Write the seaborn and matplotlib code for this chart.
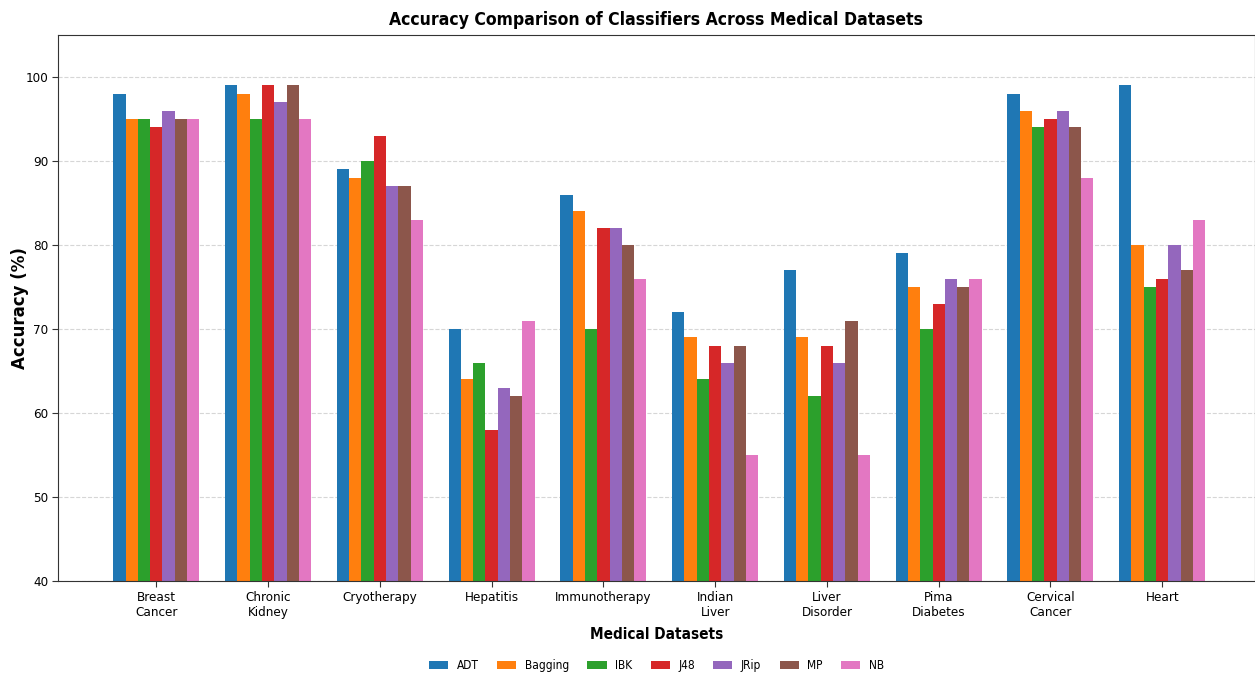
import matplotlib
matplotlib.use("Agg")
import matplotlib.pyplot as plt
import seaborn as sns
import pandas as pd

datasets = ["Breast\nCancer", "Chronic\nKidney", "Cryotherapy", "Hepatitis",
            "Immunotherapy", "Indian\nLiver", "Liver\nDisorder", "Pima\nDiabetes",
            "Cervical\nCancer", "Heart"]
classifiers = ["ADT", "Bagging", "IBK", "J48", "JRip", "MP", "NB"]

adt = [98, 99, 89, 70, 86, 72, 77, 79, 98, 99]
bagging = [95, 98, 88, 64, 84, 69, 69, 75, 96, 80]
ibk = [95, 95, 90, 66, 70, 64, 62, 70, 94, 75]
j48 = [94, 99, 93, 58, 82, 68, 68, 73, 95, 76]
jrip = [96, 97, 87, 63, 82, 66, 66, 76, 96, 80]
mp = [95, 99, 87, 62, 80, 68, 71, 75, 94, 77]
nb = [95, 95, 83, 71, 76, 55, 55, 76, 88, 83]

series = [adt, bagging, ibk, j48, jrip, mp, nb]
rows = []
for name, vals in zip(classifiers, series):
    for ds, v in zip(datasets, vals):
        rows.append({"Dataset": ds, "Classifier": name, "Accuracy": v})
df = pd.DataFrame(rows)

sns.set_style("white")
plt.rcParams["font.family"] = ["Liberation Sans Narrow", "DejaVu Sans"]
plt.rcParams["font.stretch"] = "condensed"
plt.rcParams["text.color"] = "black"
plt.rcParams["axes.labelcolor"] = "black"
plt.rcParams["xtick.color"] = "black"
plt.rcParams["ytick.color"] = "black"

fig = plt.figure(figsize=(12.55, 6.73), dpi=100)
ax = fig.add_axes([0.0462, 0.1367, 0.9538, 0.8113])

sns.barplot(data=df, x="Dataset", y="Accuracy", hue="Classifier",
            order=datasets, hue_order=classifiers,
            palette=sns.color_palette("tab10", 7), width=0.77,
            saturation=1, ax=ax, errorbar=None, linewidth=0)

ax.set_ylim(40, 105)
ax.set_xlim(-0.88, 9.83)
ax.set_yticks(range(40, 101, 10))
ax.yaxis.grid(True, linestyle="--", color="#cccccc", linewidth=0.8, alpha=0.8)
ax.set_axisbelow(True)
for s in ax.spines.values():
    s.set_color("#333333")
    s.set_linewidth(0.8)
ax.tick_params(axis="both", labelsize=9.6, length=4, direction="out",
               bottom=True, left=True, color="#333333", pad=3)

ax.set_title("Accuracy Comparison of Classifiers Across Medical Datasets",
             fontsize=12.6, fontweight="bold", pad=7, color="black")
ax.set_xlabel("Medical Datasets", fontsize=11, fontweight="bold", labelpad=6)
ax.set_ylabel("Accuracy (%)", fontsize=12, fontweight="bold",
              family="DejaVu Sans", fontstretch="normal")
ax.yaxis.set_label_coords(-0.024, 0.5)

ax.legend(loc="center", bbox_to_anchor=(0.5, -0.155), ncol=7, frameon=False,
          fontsize=8.6, handlelength=1.6, handleheight=0.6, handletextpad=0.7,
          columnspacing=1.55)

fig.savefig("out.png", dpi=100)
